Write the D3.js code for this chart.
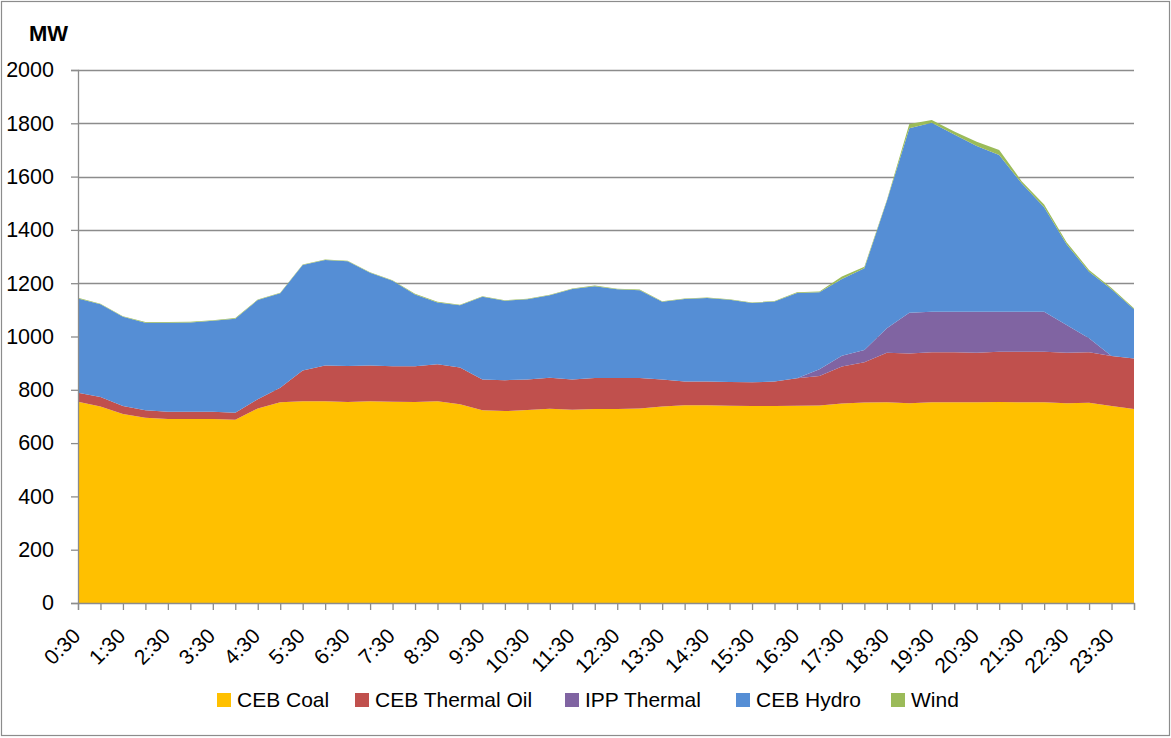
<!DOCTYPE html>
<html>
<head>
<meta charset="utf-8">
<script src="https://cdn.jsdelivr.net/npm/d3@7"></script>
<style>
  body { margin: 0; background: #fff; }
  svg { display: block; font-family: "Liberation Sans", Arial, sans-serif; }
</style>
</head>
<body>
<svg id="chart" width="1171" height="738"></svg>
<script>
// half-hour slots across the day
var times = ["0:30","1:00","1:30","2:00","2:30","3:00","3:30","4:00","4:30","5:00","5:30","6:00",
  "6:30","7:00","7:30","8:00","8:30","9:00","9:30","10:00","10:30","11:00","11:30","12:00",
  "12:30","13:00","13:30","14:00","14:30","15:00","15:30","16:00","16:30","17:00","17:30","18:00",
  "18:30","19:00","19:30","20:00","20:30","21:00","21:30","22:00","22:30","23:00","23:30","24:00"];

var cebCoal = [755,737,709,695,690,690,690,688,730,753,757,757,754,757,755,754,757,746,723,720,724,729,725,728,
  728,730,737,742,742,740,739,739,740,741,749,752,753,750,753,753,753,754,753,753,750,751,739,728];
var cebThermalOil = [34,36,30,28,28,28,28,26,35,55,115,134,135,134,133,134,139,138,116,116,115,116,114,116,
  116,114,102,89,89,89,89,92,103,111,138,151,186,186,188,188,186,189,190,190,189,190,188,189];
var ippThermal = [0,0,0,0,0,0,0,0,0,0,0,0,0,0,0,0,0,0,0,0,0,0,0,0,
  0,0,0,0,0,0,0,0,0,25,41,46,92,153,152,152,154,150,150,150,104,52,0,0];
var cebHydro = [354,348,335,329,334,335,341,353,372,354,396,396,393,348,321,270,232,233,310,298,301,310,339,345,
  333,330,291,310,313,309,298,300,320,289,288,307,477,692,709,665,622,588,482,392,303,250,250,185];
var wind = [2,2,2,2,2,2,2,2,2,2,2,2,2,2,2,2,2,2,2,2,2,2,2,2,
  2,2,2,2,2,2,2,2,3,3,9,6,4,16,10,11,16,19,8,10,8,7,5,4];

var seriesNames = ["CEB Coal", "CEB Thermal Oil", "IPP Thermal", "CEB Hydro", "Wind"];
var colors = ["#FFC000", "#C0504D", "#8064A2", "#558ED5", "#9BBB59"];
var yTicks = [0,200,400,600,800,1000,1200,1400,1600,1800,2000];

var svg = d3.select("#chart");
var plotLeft = 78, plotRight = 1134, plotTop = 70, plotBottom = 603;
var legendX = [217, 355, 565, 736, 891];

// outer chart border
svg.append("rect")
  .attr("x", 1.5).attr("y", 1.5)
  .attr("width", 1168).attr("height", 734)
  .attr("fill", "#fff").attr("stroke", "#8c8c8c").attr("stroke-width", 1.2);

var x = d3.scalePoint().domain(times).range([plotLeft, plotRight]);
var y = d3.scaleLinear().domain([0, 2000]).range([plotBottom, plotTop]);

// build rows for the stack
var rows = times.map(function(t, i) {
  return {
    time: t,
    "CEB Coal": cebCoal[i],
    "CEB Thermal Oil": cebThermalOil[i],
    "IPP Thermal": ippThermal[i],
    "CEB Hydro": cebHydro[i],
    "Wind": wind[i]
  };
});
var stacked = d3.stack().keys(seriesNames)(rows);

// gridlines
svg.append("g").selectAll("line")
  .data(yTicks.filter(function(d) { return d > 0; }))
  .enter().append("line")
  .attr("x1", plotLeft).attr("x2", plotRight)
  .attr("y1", function(d) { return Math.round(y(d)) + 0.5; })
  .attr("y2", function(d) { return Math.round(y(d)) + 0.5; })
  .attr("stroke", "#8c8c8c").attr("stroke-width", 1.3);

// areas
var area = d3.area()
  .x(function(d) { return x(d.data.time); })
  .y0(function(d) { return y(d[0]); })
  .y1(function(d) { return y(d[1]); });

svg.append("g").selectAll("path")
  .data(stacked)
  .enter().append("path")
  .attr("d", area)
  .attr("fill", function(d, i) { return colors[i]; });

// y axis
var yAxis = d3.axisLeft(y).tickValues(yTicks).tickSize(7).tickPadding(17).tickFormat(d3.format("d"));
var gy = svg.append("g").attr("transform", "translate(" + plotLeft + ",0)").call(yAxis);
gy.select(".domain").attr("stroke", "#8c8c8c").attr("stroke-width", 1.3);
gy.selectAll(".tick line").attr("stroke", "#8c8c8c").attr("stroke-width", 1.3);
gy.selectAll("text").attr("font-size", 21.5).attr("fill", "#000")
  .attr("font-family", "Liberation Sans, Arial, sans-serif");

// x axis
var xAxis = d3.axisBottom(x).tickSize(7).tickFormat(function(d, i) { return i % 2 === 0 ? d : ""; });
var gx = svg.append("g").attr("transform", "translate(0," + plotBottom + ")").call(xAxis);
gx.select(".domain").attr("stroke", "#8c8c8c").attr("stroke-width", 1.3);
gx.selectAll(".tick line").attr("stroke", "#8c8c8c").attr("stroke-width", 1.3);
gx.selectAll("text")
  .attr("font-size", 21).attr("fill", "#000")
  .attr("font-family", "Liberation Sans, Arial, sans-serif")
  .attr("text-anchor", "end")
  .attr("y", 0).attr("dy", "0.35em")
  .attr("transform", "translate(-2,29) rotate(-45)");

// axis title
svg.append("text")
  .attr("x", 29).attr("y", 41)
  .attr("font-size", 22).attr("font-weight", "bold")
  .text("MW");

// legend
var legend = svg.append("g").attr("transform", "translate(0,700)");
var items = legend.selectAll("g").data(seriesNames).enter().append("g")
  .attr("transform", function(d, i) { return "translate(" + legendX[i] + ",0)"; });
items.append("rect")
  .attr("width", 14).attr("height", 14).attr("y", -7)
  .attr("fill", function(d, i) { return colors[i]; });
items.append("text")
  .attr("x", 20).attr("dy", "0.35em")
  .attr("font-size", 21)
  .text(function(d) { return d; });
</script>
</body>
</html>
